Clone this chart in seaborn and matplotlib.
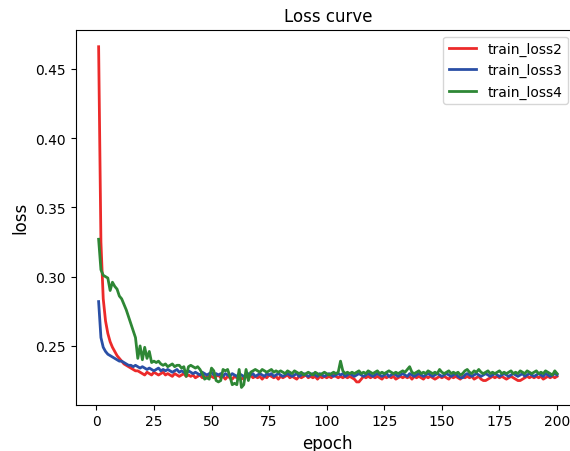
import matplotlib
matplotlib.use("Agg")
import matplotlib.pyplot as plt
import seaborn as sns
import numpy as np
import pandas as pd

epochs = list(range(1, 201))

train_loss2 = [
    0.466, 0.325, 0.284, 0.268, 0.259, 0.253, 0.249, 0.246, 0.243, 0.241,
    0.239, 0.237, 0.236, 0.235, 0.234, 0.233, 0.232, 0.232, 0.231, 0.230,
    0.229, 0.231, 0.230, 0.229, 0.231, 0.230, 0.229, 0.230, 0.231, 0.229,
    0.230, 0.229, 0.228, 0.230, 0.229, 0.228, 0.229, 0.230, 0.228, 0.229,
    0.228, 0.229, 0.227, 0.228, 0.229, 0.227, 0.228, 0.227, 0.229, 0.228,
    0.227, 0.228, 0.229, 0.227, 0.228, 0.226, 0.228, 0.227, 0.226, 0.228,
    0.227, 0.228, 0.226, 0.227, 0.228, 0.227, 0.229, 0.227, 0.228, 0.227,
    0.228, 0.226, 0.228, 0.227, 0.229, 0.228, 0.227, 0.228, 0.226, 0.228,
    0.227, 0.228, 0.229, 0.227, 0.228, 0.227, 0.226, 0.228, 0.227, 0.228,
    0.229, 0.227, 0.228, 0.227, 0.228, 0.226, 0.228, 0.227, 0.228, 0.227,
    0.228, 0.227, 0.229, 0.228, 0.227, 0.228, 0.227, 0.228, 0.227, 0.228,
    0.227, 0.226, 0.224, 0.224, 0.226, 0.228, 0.227, 0.228, 0.227, 0.228,
    0.227, 0.228, 0.227, 0.226, 0.228, 0.227, 0.228, 0.227, 0.228, 0.226,
    0.227, 0.228, 0.227, 0.228, 0.227, 0.228, 0.226, 0.228, 0.227, 0.228,
    0.227, 0.226, 0.228, 0.227, 0.228, 0.227, 0.226, 0.227, 0.228, 0.227,
    0.228, 0.227, 0.226, 0.228, 0.227, 0.228, 0.227, 0.226, 0.228, 0.227,
    0.228, 0.227, 0.228, 0.226, 0.227, 0.228, 0.226, 0.225, 0.225, 0.226,
    0.227, 0.228, 0.227, 0.228, 0.227, 0.228, 0.227, 0.226, 0.227, 0.228,
    0.227, 0.226, 0.225, 0.225, 0.226, 0.227, 0.228, 0.227, 0.228, 0.227,
    0.228, 0.227, 0.228, 0.226, 0.227, 0.228, 0.227, 0.228, 0.227, 0.228,
]

train_loss3 = [
    0.282, 0.256, 0.249, 0.246, 0.244, 0.243, 0.242, 0.241, 0.240, 0.239,
    0.239, 0.238, 0.237, 0.236, 0.236, 0.235, 0.236, 0.235, 0.234, 0.235,
    0.234, 0.233, 0.234, 0.233, 0.232, 0.233, 0.234, 0.232, 0.233, 0.232,
    0.233, 0.232, 0.231, 0.232, 0.233, 0.231, 0.232, 0.231, 0.230, 0.232,
    0.231, 0.230, 0.231, 0.230, 0.229, 0.231, 0.230, 0.229, 0.230, 0.231,
    0.229, 0.230, 0.229, 0.230, 0.228, 0.230, 0.229, 0.228, 0.230, 0.229,
    0.228, 0.230, 0.229, 0.228, 0.229, 0.230, 0.229, 0.230, 0.228, 0.229,
    0.230, 0.229, 0.228, 0.230, 0.229, 0.230, 0.228, 0.229, 0.230, 0.229,
    0.228, 0.229, 0.230, 0.229, 0.228, 0.229, 0.230, 0.228, 0.229, 0.230,
    0.229, 0.228, 0.229, 0.230, 0.229, 0.228, 0.230, 0.229, 0.228, 0.229,
    0.230, 0.229, 0.228, 0.229, 0.230, 0.229, 0.230, 0.228, 0.229, 0.230,
    0.229, 0.228, 0.229, 0.230, 0.229, 0.228, 0.229, 0.230, 0.229, 0.228,
    0.229, 0.230, 0.229, 0.228, 0.229, 0.230, 0.228, 0.229, 0.230, 0.229,
    0.228, 0.229, 0.230, 0.229, 0.228, 0.230, 0.229, 0.228, 0.229, 0.230,
    0.229, 0.228, 0.229, 0.230, 0.229, 0.228, 0.229, 0.230, 0.229, 0.228,
    0.229, 0.230, 0.229, 0.228, 0.229, 0.230, 0.228, 0.227, 0.227, 0.229,
    0.230, 0.229, 0.228, 0.229, 0.230, 0.229, 0.228, 0.229, 0.230, 0.229,
    0.228, 0.229, 0.230, 0.229, 0.228, 0.229, 0.230, 0.229, 0.228, 0.229,
    0.230, 0.229, 0.228, 0.229, 0.230, 0.228, 0.229, 0.230, 0.229, 0.228,
    0.229, 0.230, 0.229, 0.228, 0.230, 0.229, 0.228, 0.229, 0.230, 0.229,
]

train_loss4 = [
    0.327, 0.305, 0.301, 0.300, 0.299, 0.290, 0.296, 0.293, 0.291, 0.286,
    0.284, 0.280, 0.276, 0.271, 0.266, 0.261, 0.256, 0.241, 0.250, 0.240,
    0.249, 0.241, 0.246, 0.238, 0.239, 0.238, 0.239, 0.237, 0.236, 0.237,
    0.235, 0.236, 0.237, 0.235, 0.236, 0.236, 0.234, 0.235, 0.228, 0.235,
    0.236, 0.235, 0.234, 0.235, 0.233, 0.230, 0.226, 0.227, 0.226, 0.234,
    0.232, 0.225, 0.224, 0.225, 0.233, 0.232, 0.233, 0.228, 0.222, 0.223,
    0.222, 0.233, 0.220, 0.222, 0.233, 0.225, 0.231, 0.232, 0.233, 0.232,
    0.231, 0.233, 0.232, 0.231, 0.232, 0.233, 0.231, 0.232, 0.231, 0.232,
    0.231, 0.230, 0.232, 0.231, 0.230, 0.232, 0.231, 0.230, 0.231, 0.229,
    0.230, 0.231, 0.230, 0.229, 0.231, 0.230, 0.229, 0.230, 0.231, 0.230,
    0.229, 0.230, 0.231, 0.230, 0.231, 0.239, 0.232, 0.230, 0.231, 0.230,
    0.231, 0.230, 0.231, 0.232, 0.230, 0.231, 0.230, 0.232, 0.231, 0.230,
    0.231, 0.232, 0.230, 0.231, 0.230, 0.231, 0.232, 0.231, 0.230, 0.231,
    0.230, 0.231, 0.232, 0.231, 0.233, 0.235, 0.231, 0.230, 0.231, 0.232,
    0.230, 0.231, 0.230, 0.232, 0.231, 0.230, 0.231, 0.230, 0.233, 0.231,
    0.230, 0.231, 0.232, 0.230, 0.231, 0.230, 0.231, 0.229, 0.230, 0.232,
    0.233, 0.231, 0.230, 0.232, 0.231, 0.233, 0.231, 0.230, 0.231, 0.232,
    0.230, 0.231, 0.230, 0.231, 0.232, 0.230, 0.231, 0.230, 0.231, 0.232,
    0.230, 0.231, 0.230, 0.232, 0.231, 0.230, 0.232, 0.231, 0.230, 0.231,
    0.232, 0.230, 0.231, 0.230, 0.232, 0.231, 0.230, 0.229, 0.232, 0.230,
]

series_names = ["train_loss2", "train_loss3", "train_loss4"]
series_colors = ["#ec2a2a", "#2a4fa6", "#2e8735"]

df = pd.DataFrame({
    "epoch": epochs * 3,
    "loss": train_loss2 + train_loss3 + train_loss4,
    "series": [series_names[0]] * 200 + [series_names[1]] * 200 + [series_names[2]] * 200,
})

fig = plt.figure(figsize=(5.70, 4.52), dpi=100)
ax = fig.add_axes([75.7 / 570, 46.5 / 452, (580 - 75.7) / 570, (405.5 - 30.7) / 452])

sns.lineplot(data=df, x="epoch", y="loss", hue="series",
             palette=dict(zip(series_names, series_colors)),
             linewidth=2, ax=ax, estimator=None)

ax.set_title("Loss curve", fontsize=12)
ax.set_xlabel("epoch", fontsize=12)
ax.set_ylabel("loss", fontsize=12)
ax.set_xticks([0, 25, 50, 75, 100, 125, 150, 175, 200])
ax.set_yticks([0.25, 0.30, 0.35, 0.40, 0.45])

handles, labels = ax.get_legend_handles_labels()
ax.legend(handles, labels, loc="upper right", bbox_to_anchor=(0.99, 1.0), fontsize=10)

fig.savefig("out.png", dpi=100)
